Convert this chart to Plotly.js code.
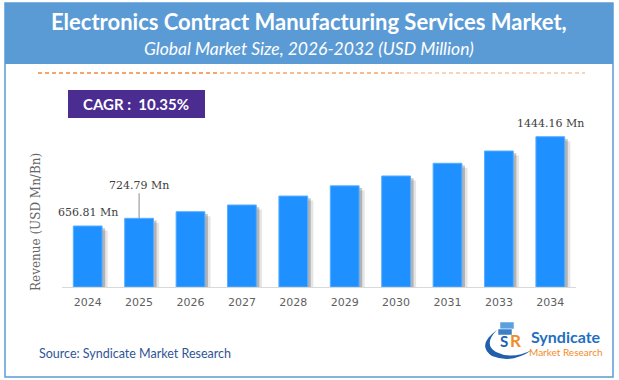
<!DOCTYPE html>
<html>
<head>
<meta charset="utf-8">
<script src="https://cdn.plot.ly/plotly-3.0.1.min.js"></script>
<style>html,body{margin:0;padding:0;background:#fff;}#chart{width:619px;height:380px;}</style>
</head>
<body>
<div id="chart"></div>
<script>
const years = ['2024','2025','2026','2027','2028','2029','2030','2031','2033','2034'];
const revenue = [656.81, 724.79, 783, 842, 921, 1011, 1098, 1210, 1318, 1444.16];
const labelText = ['656.81 Mn', '724.79 Mn', '1444.16 Mn'];
const labelYears = ['2024', '2025', '2034'];
const titleText = 'Electronics Contract Manufacturing Services Market,';
const subtitleText = 'Global Market Size, 2026-2032 (USD Million)';
const cagrText = 'CAGR :  10.35%';
const sourceText = 'Source: Syndicate Market Research';
const yTitleText = 'Revenue (USD Mn/Bn)';

const W = 619, H = 380;
const M = {l: 62, r: 43, t: 100, b: 93};
const PW = W - M.l - M.r, PH = H - M.t - M.b;
const px = v => (v - M.l) / PW;
const py = v => (H - M.b - v) / PH;
const BASE = 119;

const idx = y => years.indexOf(y);
const valOf = y => revenue[years.indexOf(y)];

const shadow2 = {
  type: 'bar', x: years, y: revenue.map(v => v - BASE - 40), base: BASE,
  width: 0.56, offset: -0.17,
  marker: {color: 'rgba(0,0,0,0.10)', line: {width: 0}},
  hoverinfo: 'skip', showlegend: false
};
const shadow1 = {
  type: 'bar', x: years, y: revenue.map(v => v - BASE - 20), base: BASE,
  width: 0.56, offset: -0.22,
  marker: {color: 'rgba(0,0,0,0.22)', line: {width: 0}},
  hoverinfo: 'skip', showlegend: false
};
const bars = {
  type: 'bar', x: years, y: revenue.map(v => v - BASE), base: BASE,
  width: 0.56, offset: -0.28,
  marker: {color: '#1E90FF', line: {color: '#5AAEFF', width: 1}},
  showlegend: false
};

const serifFont = {family: 'DejaVu Serif', size: 11, color: '#404040'};

const annotations = [
  {xref: 'paper', yref: 'paper', x: px(309), y: py(21), text: '<b>' + titleText + '</b>', showarrow: false,
   font: {family: 'Lato', size: 22, color: '#ffffff'}, xanchor: 'center', yanchor: 'middle'},
  {xref: 'paper', yref: 'paper', x: px(309), y: py(48), text: '<i>' + subtitleText + '</i>', showarrow: false,
   font: {family: 'Lato', size: 17.5, color: '#ffffff'}, xanchor: 'center', yanchor: 'middle'},
  {xref: 'paper', yref: 'paper', x: px(136), y: py(104), text: '<b>' + cagrText + '</b>', showarrow: false,
   font: {family: 'Lato', size: 15, color: '#ffffff'}, xanchor: 'center', yanchor: 'middle'},
  {xref: 'paper', yref: 'paper', x: px(37), y: py(353), text: sourceText, showarrow: false,
   font: {family: 'Lato', size: 12.5, color: '#2F5597'}, xanchor: 'left', yanchor: 'middle'},
  {xref: 'paper', yref: 'paper', x: px(36), y: py(222), text: yTitleText, showarrow: false, textangle: -90,
   font: {family: 'DejaVu Serif', size: 12, color: '#666666'}, xanchor: 'center', yanchor: 'middle'},
  {xref: 'paper', yref: 'paper', x: px(566), y: py(336), text: '<b>Syndicate</b>', showarrow: false,
   font: {family: 'Lato', size: 16, color: '#1F6FC0'}, xanchor: 'center', yanchor: 'middle'},
  {xref: 'paper', yref: 'paper', x: px(566), y: py(352), text: 'Market Research', showarrow: false,
   font: {family: 'Lato', size: 10, color: '#F28C28'}, xanchor: 'center', yanchor: 'middle'},
  {xref: 'paper', yref: 'paper', x: px(504), y: py(341), text: '<b>S</b>', showarrow: false,
   font: {family: 'Lato', size: 15, color: '#1F5FAE'}, xanchor: 'center', yanchor: 'middle'},
  {xref: 'paper', yref: 'paper', x: px(515), y: py(340), text: '<b>R</b>', showarrow: false,
   font: {family: 'Lato', size: 17, color: '#F28C28'}, xanchor: 'center', yanchor: 'middle'},
  {xref: 'x', yref: 'y', x: idx(labelYears[0]), y: valOf(labelYears[0]), text: labelText[0], showarrow: false,
   yanchor: 'bottom', yshift: 5, font: serifFont},
  {xref: 'x', yref: 'y', x: idx(labelYears[1]), y: valOf(labelYears[1]), text: labelText[1], showarrow: true,
   arrowhead: 0, arrowwidth: 1, arrowcolor: '#8c8c8c', ax: 0, ay: -33, standoff: 0, font: serifFont},
  {xref: 'x', yref: 'y', x: idx(labelYears[2]), y: valOf(labelYears[2]), text: labelText[2], showarrow: false,
   yanchor: 'bottom', yshift: 5, font: serifFont}
];

const dash = {width: 1.5, dash: '4px,3px'};
const shapes = [
  {type: 'rect', xref: 'paper', yref: 'paper', x0: px(5), x1: px(613), y0: py(3), y1: py(64),
   fillcolor: '#5B9BD5', line: {width: 0}, layer: 'below'},
  {type: 'rect', xref: 'paper', yref: 'paper', x0: px(5), x1: px(613), y0: py(3), y1: py(377),
   fillcolor: 'rgba(0,0,0,0)', line: {color: '#5B9BD5', width: 1.5}},
  {type: 'line', xref: 'paper', yref: 'paper', x0: px(38), x1: px(220), y0: py(73), y1: py(73),
   line: Object.assign({color: '#F5873A'}, dash)},
  {type: 'line', xref: 'paper', yref: 'paper', x0: px(220), x1: px(400), y0: py(73), y1: py(73),
   line: Object.assign({color: '#F6A56C'}, dash)},
  {type: 'line', xref: 'paper', yref: 'paper', x0: px(400), x1: px(585), y0: py(73), y1: py(73),
   line: Object.assign({color: '#F8C6A2'}, dash)},
  {type: 'rect', xref: 'paper', yref: 'paper', x0: px(68), x1: px(205), y0: py(90), y1: py(118),
   fillcolor: '#4B2C91', line: {width: 0}},
  {type: 'path', xref: 'paper', yref: 'paper',
   path: 'M ' + px(497) + ',' + py(330) + ' Q ' + px(476) + ',' + py(345) + ' ' + px(492) + ',' + py(356) +
         ' Q ' + px(512) + ',' + py(364) + ' ' + px(532) + ',' + py(350) +
         ' Q ' + px(512) + ',' + py(360) + ' ' + px(496) + ',' + py(352) +
         ' Q ' + px(483) + ',' + py(344) + ' ' + px(497) + ',' + py(330) + ' Z',
   fillcolor: '#1F5FAE', line: {width: 0}},
  {type: 'rect', xref: 'paper', yref: 'paper', x0: px(500), x1: px(514), y0: py(322), y1: py(329),
   fillcolor: '#5AA0E0', line: {color: '#ffffff', width: 0.5}},
  {type: 'rect', xref: 'paper', yref: 'paper', x0: px(498), x1: px(512), y0: py(329), y1: py(335),
   fillcolor: '#3C7FC8', line: {color: '#ffffff', width: 0.5}}
];

const layout = {
  width: W, height: H,
  margin: M,
  paper_bgcolor: '#ffffff', plot_bgcolor: '#ffffff',
  barmode: 'overlay',
  showlegend: false,
  xaxis: {type: 'category', categoryorder: 'array', categoryarray: years, range: [-0.5, years.length - 0.5],
          showgrid: false, zeroline: false, showline: true, linecolor: '#d9d9d9', linewidth: 1,
          ticks: 'outside', ticklen: 5, tickcolor: 'rgba(0,0,0,0)',
          tickfont: {family: 'DejaVu Sans', size: 11, color: '#5f5f5f'}, fixedrange: true},
  yaxis: {range: [BASE, 1768], showgrid: false, zeroline: false, showline: false, showticklabels: false, ticks: '', fixedrange: true},
  annotations: annotations,
  shapes: shapes
};

Plotly.newPlot('chart', [shadow2, shadow1, bars], layout, {displayModeBar: false, staticPlot: true});
</script>
</body>
</html>
